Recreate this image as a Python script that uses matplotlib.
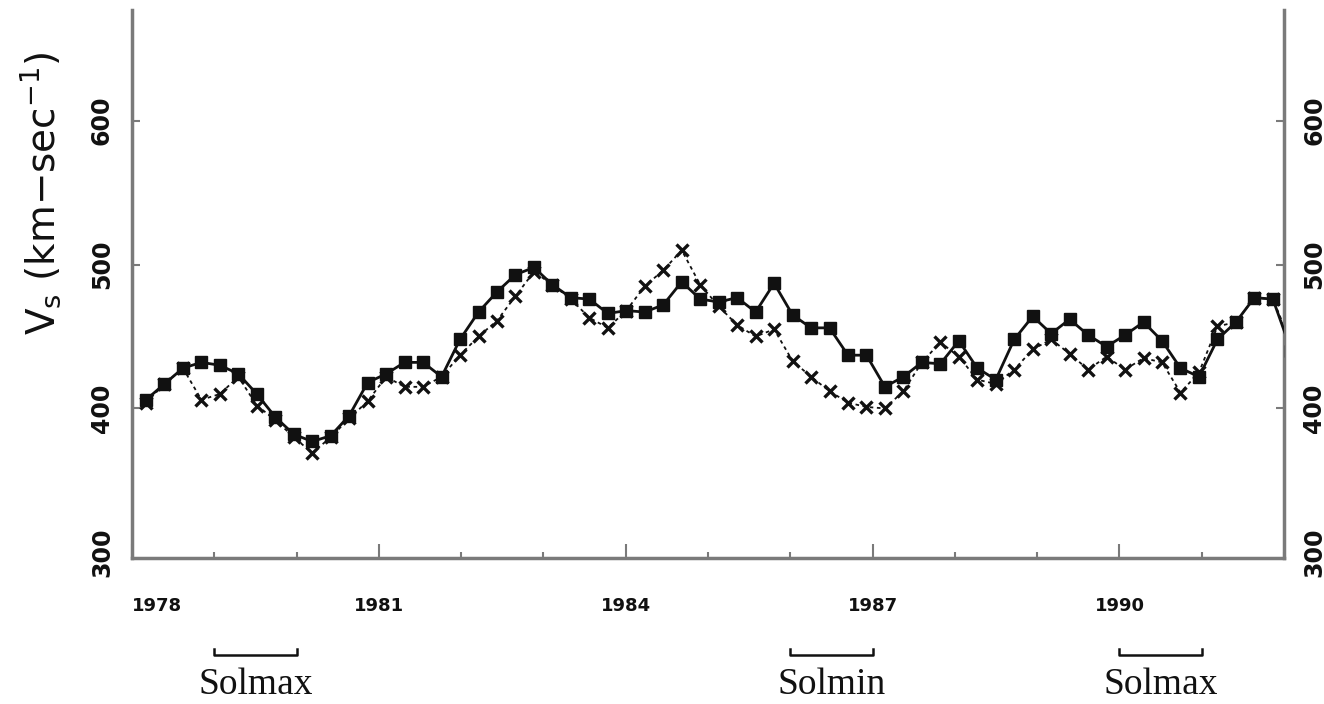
#!/usr/bin/env python3
"""Solar wind speed (3-rotation averages), 1978-1992, two series."""

import matplotlib
matplotlib.use("Agg")
import matplotlib.pyplot as plt
import numpy as np

# sampling of the averages (years)
T_START = 1978.17
T_STEP = 0.2245

# filled squares, solid line
v_squares = [406, 417, 428, 432, 430, 424, 410, 394, 382, 377,
             381, 395, 418, 424, 432, 432, 422, 448, 467, 481,
             493, 498, 486, 477, 476, 466, 468, 467, 472, 488,
             476, 474, 477, 467, 487, 465, 456, 456, 437, 437,
             415, 422, 432, 431, 447, 428, 420, 448, 464, 452,
             462, 451, 443, 451, 460, 447, 428, 422, 448, 460,
             477, 476, 440]

# crosses, dotted line
v_crosses = [404, 417, 428, 406, 410, 422, 402, 392, 380, 369,
             380, 393, 405, 422, 415, 415, 422, 437, 450, 461,
             478, 495, 486, 476, 463, 456, 468, 485, 496, 510,
             486, 471, 458, 450, 455, 433, 422, 412, 404, 401,
             400, 412, 432, 446, 436, 420, 417, 427, 441, 448,
             438, 427, 436, 427, 435, 432, 411, 425, 457, 460,
             477, 476, 445]

year_ticks = [1978, 1981, 1984, 1987, 1990]
year_minor = list(range(1978, 1993))
v_ticks = [300, 400, 500, 600]

# solar cycle phase markers
sol_labels = ["Solmax", "Solmin", "Solmax"]
sol_start = [1979.0, 1986.0, 1990.0]
sol_end = [1980.0, 1987.0, 1991.0]

SPINE = "#7a7a7a"
INK = "#111111"

t = T_START + T_STEP * np.arange(len(v_squares))

fig = plt.figure(figsize=(13.24, 7.04), dpi=100)
ax = fig.add_axes([0.0997, 0.2074, 0.8701, 0.7784])

ax.plot(t, v_crosses, color=INK, linestyle=(0, (2, 2)), linewidth=1.3,
        marker="x", markersize=9, markeredgewidth=2.4, zorder=2)
ax.plot(t, v_squares, color=INK, linestyle="-", linewidth=2.0,
        marker="s", markersize=8.5, zorder=3)

ax.set_xlim(1978, 1992)
ax.set_ylim(296, 677)

ax.spines["top"].set_visible(False)
for side in ("left", "right", "bottom"):
    ax.spines[side].set_color(SPINE)
    ax.spines[side].set_linewidth(2.5)

ax.set_xticks(year_ticks)
ax.set_xticks(year_minor, minor=True)
ax.set_xticklabels([str(y) for y in year_ticks])
ax.tick_params(axis="x", which="major", direction="in", length=10, width=1.5,
               color=SPINE, pad=28, labelsize=13, labelcolor=INK)
ax.tick_params(axis="x", which="minor", direction="in", length=4, width=1.5,
               color=SPINE)
for lab in ax.get_xticklabels():
    lab.set_fontweight("bold")
ax.get_xticklabels()[0].set_horizontalalignment("left")

ax.set_yticks(v_ticks)
ax.tick_params(axis="y", which="major", direction="in", length=6, width=1.5,
               color=SPINE, pad=13, labelsize=17, labelcolor=INK,
               left=True, right=True, labelleft=True, labelright=True)
for tk in ax.yaxis.get_major_ticks():
    tk.label1.set_rotation(90)
    tk.label1.set_va("center")
    tk.label1.set_fontweight("bold")
    tk.label2.set_rotation(90)
    tk.label2.set_va("center")
    tk.label2.set_fontweight("bold")
# the 300 tick sits on the bottom axis, only its label shows
first = ax.yaxis.get_major_ticks()[0]
first.tick1line.set_visible(False)
first.tick2line.set_visible(False)

fig.text(0.031, 0.725, r"V$_{\rm s}$ (km$-$sec$^{-1}$)", rotation=90,
         ha="center", va="center", fontsize=28, color=INK)

# brackets under the axis for solar max / min periods
trans = ax.get_xaxis_transform()
for lab, a, b in zip(sol_labels, sol_start, sol_end):
    ax.plot([a, a, b, b], [-0.166, -0.177, -0.177, -0.166], transform=trans,
            color=INK, linewidth=1.8, clip_on=False)
    ax.text((a + b) / 2, -0.232, lab, transform=trans, ha="center",
            va="center", fontsize=27, family="Liberation Serif", color=INK)

fig.savefig("out.png", dpi=100)
